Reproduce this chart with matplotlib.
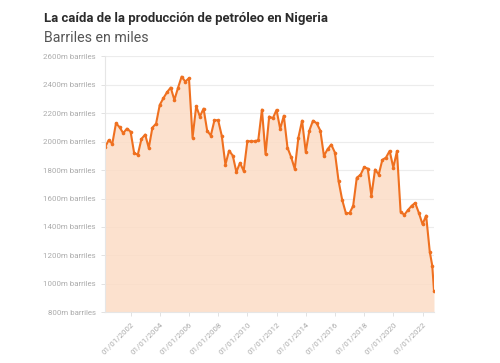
import matplotlib
matplotlib.use('Agg')
import matplotlib.pyplot as plt
import matplotlib.dates as mdates
import pandas as pd

# producción trimestral de petróleo (miles de barriles)
fechas = list(pd.date_range('2000-04-01', periods=89, freq='QS')) + \
    [pd.Timestamp('2022-07-01'), pd.Timestamp('2022-09-01'), pd.Timestamp('2022-10-15')]

barriles = [1960, 2010, 1986, 2130, 2102, 2060, 2092, 2071, 1919, 1909,
            2020, 2050, 1956, 2099, 2127, 2259, 2306, 2348, 2381, 2294,
            2378, 2458, 2423, 2447, 2029, 2250, 2177, 2233, 2078, 2043,
            2151, 2151, 2041, 1839, 1937, 1902, 1787, 1851, 1794, 2003,
            2003, 2003, 2010, 2226, 1912, 2177, 2165, 2224, 2090, 2183,
            1958, 1891, 1808, 2029, 2148, 1928, 2078, 2148, 2130, 2078,
            1900, 1947, 1980, 1923, 1724, 1590, 1497, 1497, 1548, 1747,
            1766, 1820, 1811, 1618, 1804, 1769, 1872, 1888, 1935, 1818,
            1933, 1508, 1485, 1518, 1548, 1569, 1499, 1419, 1480, 1226,
            1128, 952]

y_ticks = list(range(800, 2601, 200))
x_ticks = [pd.Timestamp(f'{a}-01-01') for a in range(2002, 2023, 2)]

naranja = '#ef7020'
gris = '#ababab'
plt.rcParams['font.family'] = ['Roboto', 'DejaVu Sans']

fig = plt.figure(figsize=(5, 3.63), dpi=100)
ax = fig.add_axes([0.21, 0.14, 0.658, 0.7045])

ax.fill_between(fechas, barriles, 800, color='#fcdcc6', alpha=0.85, lw=0)
ax.plot(fechas, barriles, color=naranja, lw=1.5, marker='o', ms=2.6,
        markeredgewidth=0)

ax.set_xlim(fechas[0], fechas[-1])
ax.set_ylim(800, 2600)
ax.set_yticks(y_ticks)
ax.set_yticklabels([f'{v}m barriles' for v in y_ticks])
ax.set_xticks(x_ticks)
ax.xaxis.set_major_formatter(mdates.DateFormatter('%d/%m/%Y'))
plt.setp(ax.get_xticklabels(), rotation=45, ha='right', rotation_mode='anchor')

ax.grid(axis='y', color='#ececec', lw=0.8)
ax.set_axisbelow(True)
for lado in ['top', 'right']:
    ax.spines[lado].set_visible(False)
for lado in ['left', 'bottom']:
    ax.spines[lado].set_color('#e6e6e6')
    ax.spines[lado].set_linewidth(0.8)
ax.tick_params(colors='#dddddd', labelcolor=gris, labelsize=5.7, length=3, width=0.6)

fig.text(0.088, 0.95, 'La caída de la producción de petróleo en Nigeria',
         fontsize=9.45, fontweight='bold', color='#2b2b2b', va='center')
fig.text(0.088, 0.895, 'Barriles en miles', fontsize=10.2, color='#555555', va='center')

fig.savefig('out.png', dpi=100)
plt.close(fig)
